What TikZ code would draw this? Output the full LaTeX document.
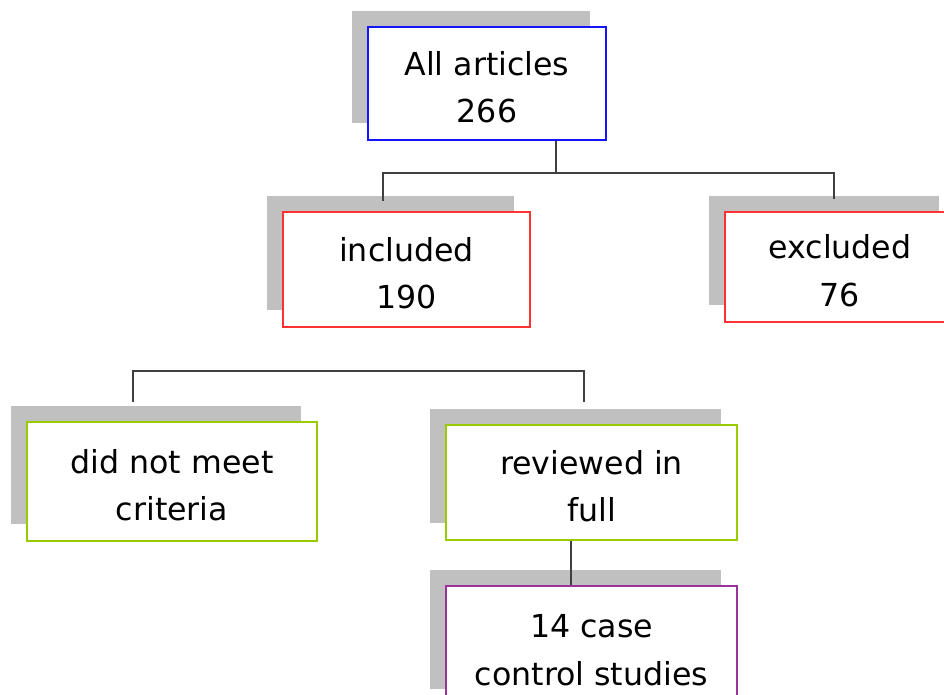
\documentclass[tikz,border=0pt]{standalone}
\usepackage{fontspec}
\setmainfont{DejaVu Sans}
\usepackage{xcolor}
\definecolor{boxblue}{RGB}{20,20,255}
\definecolor{boxred}{RGB}{255,51,51}
\definecolor{boxgreen}{RGB}{153,204,0}
\definecolor{boxpurple}{RGB}{153,51,153}
\definecolor{shade}{RGB}{192,192,192}
\usetikzlibrary{calc,shadows}

\begin{document}
\begin{tikzpicture}[x=0.02cm,y=-0.02cm,
      box/.style={rectangle,draw,line width=0.95pt,fill=white,align=center,
        font=\fontsize{18}{27}\selectfont,text height=44.5pt,text depth=0pt,
        general shadow={fill=shade,shadow xshift=-0.32cm,shadow yshift=0.33cm}},
      conn/.style={line width=0.9pt,draw=black!75}]
    \useasboundingbox (0,0) rectangle (944,695);
    \clip (0,0) rectangle (944,695);
    % top level
    \node[box,draw=boxblue,minimum width=4.76cm,minimum height=2.26cm] (all) at (487,83.5) {All articles\\266};
    % screening result
    \node[box,draw=boxred,minimum width=4.94cm,minimum height=2.3cm] (incl) at (406.5,269.5) {included\\190};
    \node[box,draw=boxred,minimum width=4.6cm,minimum height=2.2cm] (excl) at (840,267) {excluded\\76};
    % second split
    \node[box,draw=boxgreen,minimum width=5.8cm,minimum height=2.38cm] (nomeet) at (172,481.5) {did not meet\\criteria};
    \node[box,draw=boxgreen,minimum width=5.82cm,minimum height=2.3cm] (full) at (591.5,482.5) {reviewed in\\full};
    \node[box,draw=boxpurple,minimum width=5.82cm,minimum height=2.4cm] (cases) at (591.5,646) {14 case\\control studies};
    % connectors
    \draw[conn] ($(all.south)+(69,0)$) -- ++(0,32) coordinate (bus1);
    \draw[conn] ($(incl.north)+(-23.5,-10)$) |- (bus1) -| ($(excl.north)+(-6,-12)$);
    \draw[conn] ($(nomeet.north)+(-39,-19)$) -- ++(0,-31) -| ($(full.north)+(-7.5,-22)$);
    \draw[conn] ($(full.south)+(-20.5,0)$) -- ($(cases.north)+(-20.5,0)$);
\end{tikzpicture}
\end{document}
